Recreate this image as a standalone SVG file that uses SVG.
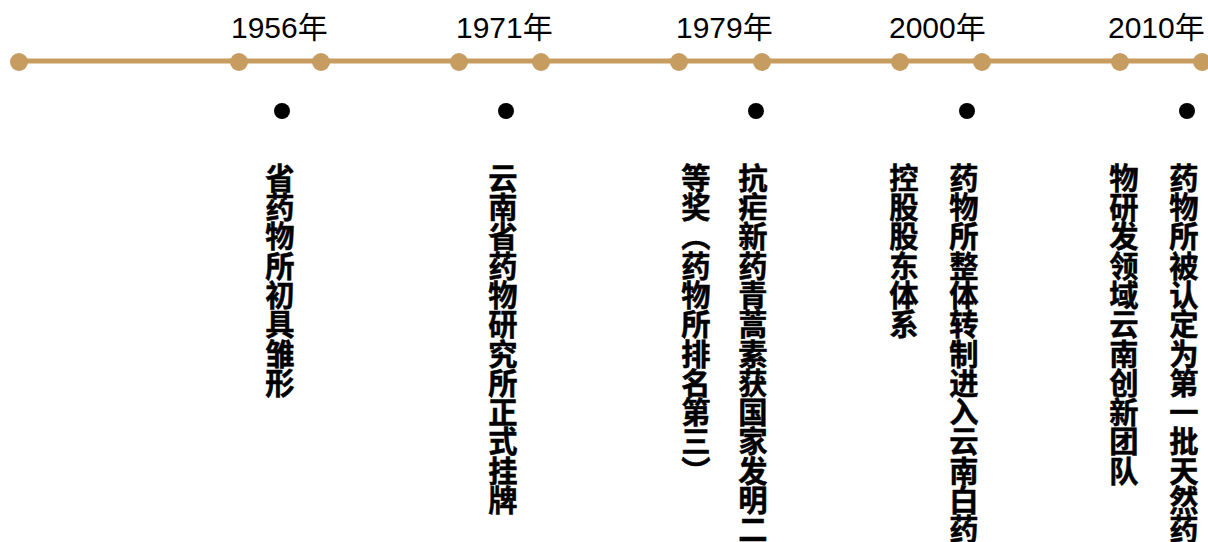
<svg xmlns="http://www.w3.org/2000/svg" width="1208" height="542" viewBox="0 0 1208 542">
<style>
.yr{font-family:"Liberation Sans","Noto Sans CJK SC",sans-serif;font-size:30px;fill:#000}
.vt{font-family:"Noto Sans CJK SC",sans-serif;font-size:29.3px;font-weight:bold;fill:#000;stroke:#000;stroke-width:0.5px;writing-mode:vertical-rl;text-orientation:mixed}
.td{fill:#C69C61}
.bd{fill:#000}
</style>
<rect width="1208" height="542" fill="#fff"/>
<g id="connectors">
<line x1="19" y1="61" x2="1208" y2="61" stroke="#C69C61" stroke-width="5"/>
</g>
<g id="timeline-dots">
<circle class="td" cx="19" cy="62" r="9"/>
<circle class="td" cx="239" cy="62" r="9"/>
<circle class="td" cx="321" cy="62" r="9"/>
<circle class="td" cx="459" cy="62" r="9"/>
<circle class="td" cx="541" cy="62" r="9"/>
<circle class="td" cx="679" cy="62" r="9"/>
<circle class="td" cx="762" cy="62" r="9"/>
<circle class="td" cx="900" cy="62" r="9"/>
<circle class="td" cx="982" cy="62" r="9"/>
<circle class="td" cx="1120" cy="62" r="9"/>
<circle class="td" cx="1202" cy="62" r="9"/>
</g>
<g id="node-1956">
<text class="yr" x="231" y="38">1956年</text>
<circle class="bd" cx="282" cy="111" r="8"/>
<text class="vt" x="280" y="163">省药物所初具雏形</text>
</g>
<g id="node-1971">
<text class="yr" x="456" y="38">1971年</text>
<circle class="bd" cx="506" cy="111" r="8"/>
<text class="vt" x="503" y="163">云南省药物研究所正式挂牌</text>
</g>
<g id="node-1979">
<text class="yr" x="676" y="38">1979年</text>
<circle class="bd" cx="756" cy="111" r="8"/>
<text class="vt" x="753" y="163">抗疟新药青蒿素获国家发明二</text>
<text class="vt" x="696" y="163">等奖（药物所排名第三）</text>
</g>
<g id="node-2000">
<text class="yr" x="889" y="38">2000年</text>
<circle class="bd" cx="967" cy="111" r="8"/>
<text class="vt" x="964" y="163">药物所整体转制进入云南白药</text>
<text class="vt" x="904" y="163">控股股东体系</text>
</g>
<g id="node-2010">
<text class="yr" x="1108" y="38">2010年</text>
<circle class="bd" cx="1187" cy="111" r="8"/>
<text class="vt" x="1184" y="163">药物所被认定为第一批天然药</text>
<text class="vt" x="1124" y="163">物研发领域云南创新团队</text>
</g>
</svg>
